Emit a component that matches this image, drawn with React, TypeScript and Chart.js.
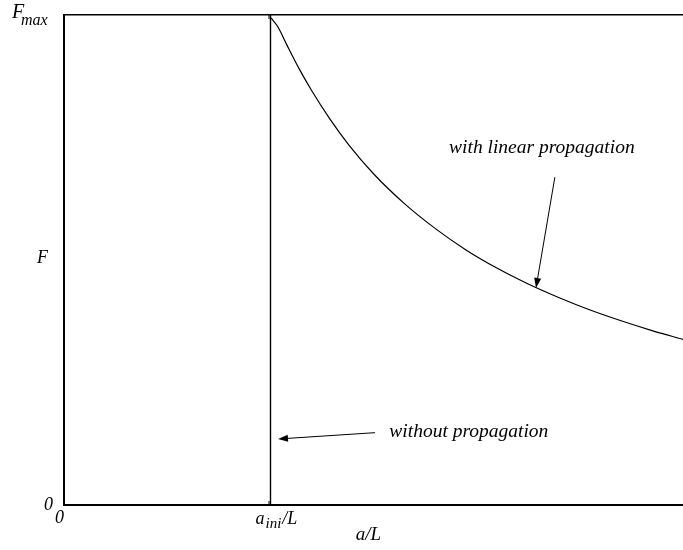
import React, { useEffect, useRef } from "react";
import { Chart, registerables } from "chart.js";

Chart.register(...registerables);

// a/L positions (x) and F/Fmax values (y) read along the curve "with linear propagation"
const curveX = [0.3344, 0.345, 0.36, 0.38, 0.40, 0.43, 0.46, 0.50, 0.55, 0.60, 0.65, 0.70, 0.75, 0.80, 0.85, 0.90, 0.95, 1.00];
const curveY = [0.994, 0.977, 0.939, 0.890, 0.846, 0.787, 0.735, 0.676, 0.615, 0.564, 0.520, 0.483, 0.451, 0.423, 0.398, 0.376, 0.356, 0.338];

// initial crack length (vertical line "without propagation")
const aIni = 0.3336;
const verticalY = [0, 1];

// annotation texts with anchor (data coords) and arrow from/to (data coords)
const noteTexts = ["with linear propagation", "without propagation"];
const noteX = [0.772, 0.654];
const noteY = [0.718, 0.139];
const arrowFromX = [0.793, 0.5024];
const arrowFromY = [0.669, 0.1476];
const arrowToX = [0.7625, 0.3457];
const arrowToY = [0.443, 0.1347];

const SERIF = '"Liberation Serif", "DejaVu Serif", serif';

const labelsPlugin = {
  id: "labelsPlugin",
  afterDraw(chart: any) {
    const ctx = chart.ctx as CanvasRenderingContext2D;
    const xs = chart.scales.x;
    const ys = chart.scales.y;
    const area = chart.chartArea;
    ctx.save();
    ctx.fillStyle = "#000";
    ctx.strokeStyle = "#000";

    // inward tick marks at a_ini
    const px = xs.getPixelForValue(aIni) - 1.5;
    ctx.lineWidth = 1;
    ctx.beginPath();
    ctx.moveTo(px, area.top);
    ctx.lineTo(px, area.top + 4);
    ctx.moveTo(px, area.bottom);
    ctx.lineTo(px, area.bottom - 4);
    ctx.stroke();

    ctx.textBaseline = "alphabetic";
    // y axis labels
    ctx.textAlign = "left";
    ctx.font = `italic 20px ${SERIF}`;
    const fTop = ys.getPixelForValue(1);
    ctx.fillText("F", area.left - 52, fTop + 3);
    ctx.font = `italic 16px ${SERIF}`;
    ctx.fillText("max", area.left - 43, fTop + 10);

    ctx.font = `italic 18px ${SERIF}`;
    ctx.fillText("F", area.left - 27, ys.getPixelForValue(0.5) + 3);

    ctx.textAlign = "right";
    ctx.fillText("0", area.left - 11, ys.getPixelForValue(0) + 5);

    // x axis labels
    ctx.textAlign = "left";
    ctx.fillText("0", xs.getPixelForValue(0) - 9, area.bottom + 18);

    const ax = xs.getPixelForValue(aIni) - 15;
    const ab = area.bottom + 19;
    ctx.font = `italic 18px ${SERIF}`;
    ctx.fillText("a", ax, ab);
    const wa = ctx.measureText("a").width;
    ctx.font = `italic 15px ${SERIF}`;
    ctx.fillText("ini", ax + wa + 1, ab + 4);
    const wi = ctx.measureText("ini").width;
    ctx.font = `italic 18px ${SERIF}`;
    ctx.fillText("/L", ax + wa + wi + 2, ab);

    ctx.textAlign = "center";
    ctx.font = `italic 19px ${SERIF}`;
    ctx.fillText("a/L", (area.left + area.right) / 2 - 5, area.bottom + 35);

    // annotations
    ctx.font = `italic 19.5px ${SERIF}`;
    ctx.textAlign = "center";
    for (let i = 0; i < noteTexts.length; i++) {
      ctx.fillText(noteTexts[i], xs.getPixelForValue(noteX[i]), ys.getPixelForValue(noteY[i]));
      const x1 = xs.getPixelForValue(arrowFromX[i]);
      const y1 = ys.getPixelForValue(arrowFromY[i]);
      const x2 = xs.getPixelForValue(arrowToX[i]);
      const y2 = ys.getPixelForValue(arrowToY[i]);
      const ang = Math.atan2(y2 - y1, x2 - x1);
      const hl = 10;
      const hw = 3.5;
      const bx = x2 - hl * Math.cos(ang);
      const by = y2 - hl * Math.sin(ang);
      ctx.lineWidth = 1;
      ctx.beginPath();
      ctx.moveTo(x1, y1);
      ctx.lineTo(bx, by);
      ctx.stroke();
      ctx.beginPath();
      ctx.moveTo(x2, y2);
      ctx.lineTo(bx + hw * Math.sin(ang), by - hw * Math.cos(ang));
      ctx.lineTo(bx - hw * Math.sin(ang), by + hw * Math.cos(ang));
      ctx.closePath();
      ctx.fill();
    }
    ctx.restore();
  },
};

export default function App() {
  const canvasRef = useRef<HTMLCanvasElement | null>(null);

  useEffect(() => {
    if (!canvasRef.current) return;
    const chart = new Chart(canvasRef.current, {
      type: "scatter",
      data: {
        datasets: [
          {
            label: "with linear propagation",
            data: curveX.map((x, i) => ({ x, y: curveY[i] })),
            showLine: true,
            borderColor: "#000",
            borderWidth: 1.2,
            pointRadius: 0,
            cubicInterpolationMode: "monotone",
          },
          {
            label: "without propagation",
            data: verticalY.map((y) => ({ x: aIni, y })),
            showLine: true,
            borderColor: "#000",
            borderWidth: 1.4,
            pointRadius: 0,
          },
        ],
      },
      options: {
        animation: false,
        responsive: true,
        maintainAspectRatio: false,
        layout: { padding: 0 },
        plugins: { legend: { display: false }, tooltip: { enabled: false } },
        scales: {
          x: {
            type: "linear",
            position: "bottom",
            min: 0,
            max: 1,
            grid: { display: false },
            border: { display: true, color: "#000", width: 2 },
            ticks: { display: false },
            afterFit: (s: any) => {
              s.height = 45;
            },
          },
          x2: {
            type: "linear",
            position: "top",
            min: 0,
            max: 1,
            grid: { display: false },
            border: { display: true, color: "#000", width: 1.5 },
            ticks: { display: false },
            afterFit: (s: any) => {
              s.height = 15;
            },
          },
          y: {
            type: "linear",
            position: "left",
            min: 0,
            max: 1,
            grid: { display: false },
            border: { display: true, color: "#000", width: 2 },
            ticks: { display: false },
            afterFit: (s: any) => {
              s.width = 64;
            },
          },
        },
      } as any,
      plugins: [labelsPlugin],
    });
    return () => chart.destroy();
  }, []);

  return (
    <div style={{ position: "absolute", left: 0, top: 0, width: 683, height: 550, background: "#fff" }}>
      <canvas ref={canvasRef} />
    </div>
  );
}
